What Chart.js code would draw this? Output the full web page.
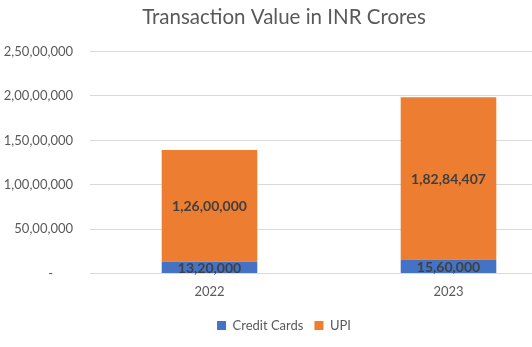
<!DOCTYPE html>
<html>
<head>
<meta charset="utf-8">
<script src="https://cdn.jsdelivr.net/npm/chart.js@4"></script>
<style>
	html, body { margin: 0; padding: 0; background: #fff; overflow: hidden; }
	#wrap { width: 568px; height: 347px; }
</style>
</head>
<body>
<div id="wrap"><canvas id="chart"></canvas></div>
<script>
const years = ['2022', '2023'];
const creditCards = [1320000, 1560000];
const upi = [12600000, 18284407];
const yTicks = [0, 5000000, 10000000, 15000000, 20000000, 25000000];

// indian grouping: 1,82,84,407
const inr = (v) => {
	const s = Math.round(v).toString();
	if (s.length <= 3) return s;
	const last = s.slice(-3);
	const rest = s.slice(0, -3).replace(/\B(?=(\d{2})+(?!\d))/g, ',');
	return rest + ',' + last;
};

const valueLabels = {
	id: 'valueLabels',
	afterDatasetsDraw(chart) {
		const ctx = chart.ctx;
		ctx.save();
		ctx.font = 'bold 14px Lato';
		ctx.fillStyle = '#404040';
		ctx.textAlign = 'center';
		ctx.textBaseline = 'middle';
		chart.data.datasets.forEach((ds, i) => {
			chart.getDatasetMeta(i).data.forEach((bar, j) => {
				ctx.fillText(inr(ds.data[j]), bar.x, (bar.y + bar.base) / 2 + 1);
			});
		});
		ctx.restore();
	}
};

new Chart(document.getElementById('chart'), {
	type: 'bar',
	data: {
		labels: years,
		datasets: [
			{ label: 'Credit Cards', data: creditCards, backgroundColor: '#4472c4' },
			{ label: 'UPI', data: upi, backgroundColor: '#ed7d31' }
		]
	},
	options: {
		responsive: true,
		maintainAspectRatio: false,
		animation: false,
		layout: { padding: { left: 0, right: 0, top: 4, bottom: 5 } },
		datasets: { bar: { barPercentage: 0.40, categoryPercentage: 1 } },
		plugins: {
			title: {
				display: true,
				text: 'Transaction Value in INR Crores',
				color: '#595959',
				font: { family: 'Lato', size: 20.5, weight: 'normal' },
				padding: { top: 1, bottom: 22 }
			},
			legend: {
				position: 'bottom',
				labels: {
					color: '#595959',
					font: { family: 'Lato', size: 13 },
					boxWidth: 9,
					boxHeight: 9,
					padding: 11
				}
			},
			tooltip: { enabled: false }
		},
		scales: {
			x: {
				stacked: true,
				afterFit: (axis) => { axis.height += 5; },
				grid: { display: false },
				border: { display: false },
				ticks: { color: '#595959', font: { family: 'Lato', size: 13 }, padding: 3 }
			},
			y: {
				stacked: true,
				min: 0,
				max: 25000000,
				afterBuildTicks: (axis) => { axis.ticks = yTicks.map(v => ({ value: v })); },
				afterFit: (axis) => { axis.width = 90; },
				grid: { color: '#d9d9d9', drawTicks: false },
				border: { display: false },
				ticks: {
					color: '#595959',
					font: { family: 'Lato', size: 13 },
					padding: 17,
					callback: (v) => v === 0 ? '-      ' : inr(v)
				}
			}
		}
	},
	plugins: [valueLabels]
});
</script>
</body>
</html>
